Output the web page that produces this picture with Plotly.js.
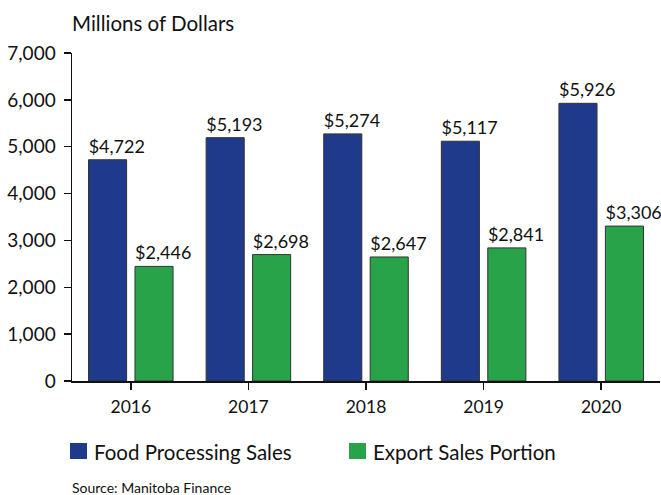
<!DOCTYPE html>
<html>
<head>
<meta charset="utf-8">
<script src="https://cdn.plot.ly/plotly-3.0.1.min.js"></script>
<style>html,body{margin:0;padding:0;background:#fff;}#chart{width:661px;height:495px;}</style>
</head>
<body>
<div id="chart"></div>
<script>
const years = ["2016", "2017", "2018", "2019", "2020"];
const foodSales = [4722, 5193, 5274, 5117, 5926];
const exportSales = [2446, 2698, 2647, 2841, 3306];
const seriesNames = ["Food Processing Sales", "Export Sales Portion"];
const seriesColors = ["#1f3a8b", "#29a34a"];
const yTicks = [0, 1000, 2000, 3000, 4000, 5000, 6000, 7000];

const FONT = "Lato, 'Noto Sans', sans-serif";
// labels sit flush with the left edge of each bar: pad with leading no-break spaces
const PAD = "\u00a0\u00a0\u00a0\u00a0";
const fmt = v => PAD + "$" + v.toLocaleString("en-US");

const traces = [foodSales, exportSales].map((vals, i) => ({
  type: "bar",
  name: seriesNames[i],
  x: years,
  y: vals,
  text: vals.map(fmt),
  textposition: "outside",
  constraintext: "none",
  cliponaxis: false,
  textfont: {family: FONT, size: 18, color: "#111"},
  marker: {color: seriesColors[i], line: {color: "#333", width: 1}},
  showlegend: false,
  hoverinfo: "none"
}));

const PW = 588, PH = 328, L = 72, B = 381;
const shapes = [];
const annotations = [
  {text: "Millions of Dollars", xref: "paper", yref: "paper", x: -2 / PW, y: (B - 23) / PH,
   xanchor: "left", yanchor: "middle", showarrow: false,
   font: {family: FONT, size: 20.5, color: "#111"}},
  {text: "Source: Manitoba Finance", xref: "paper", yref: "paper", x: -2 / PW, y: (B - 487) / PH,
   xanchor: "left", yanchor: "middle", showarrow: false,
   font: {family: FONT, size: 14, color: "#111"}}
];
const legendX = [70, 349];
seriesNames.forEach((name, i) => {
  const x0 = legendX[i];
  shapes.push({type: "rect", xref: "paper", yref: "paper", layer: "above",
    x0: (x0 - L) / PW, x1: (x0 + 17 - L) / PW,
    y0: (B - 459) / PH, y1: (B - 443) / PH,
    fillcolor: seriesColors[i], line: {width: 0}});
  annotations.push({text: name, xref: "paper", yref: "paper",
    x: (x0 + 22 - L) / PW, y: (B - 452) / PH, xanchor: "left", yanchor: "middle",
    showarrow: false, font: {family: FONT, size: 20.5, color: "#111"}});
});

const layout = {
  width: 661, height: 495,
  margin: {l: L, r: 1, t: 53, b: 495 - B},
  paper_bgcolor: "#fff", plot_bgcolor: "#fff",
  barmode: "group", bargap: 0.21, bargroupgap: 0.18,
  font: {family: FONT, size: 18, color: "#111"},
  xaxis: {type: "category", showline: true, linecolor: "#111", linewidth: 1.5,
    ticks: "outside", ticklen: 7, tickcolor: "#111", tickwidth: 1.5, ticklabelstandoff: 2,
    tickfont: {family: FONT, size: 17.5, color: "#111"}, showgrid: false, zeroline: false},
  yaxis: {range: [0, 7000], tickvals: yTicks, tickformat: ",", showline: true,
    linecolor: "#111", linewidth: 1.5, ticks: "outside", ticklen: 7, tickcolor: "#111", tickwidth: 1.5,
    ticklabelstandoff: 4,
    tickfont: {family: FONT, size: 19, color: "#111"}, showgrid: false, zeroline: false},
  shapes: shapes,
  annotations: annotations,
  showlegend: false
};

Plotly.newPlot("chart", traces, layout, {staticPlot: true, displayModeBar: false});
</script>
</body>
</html>
